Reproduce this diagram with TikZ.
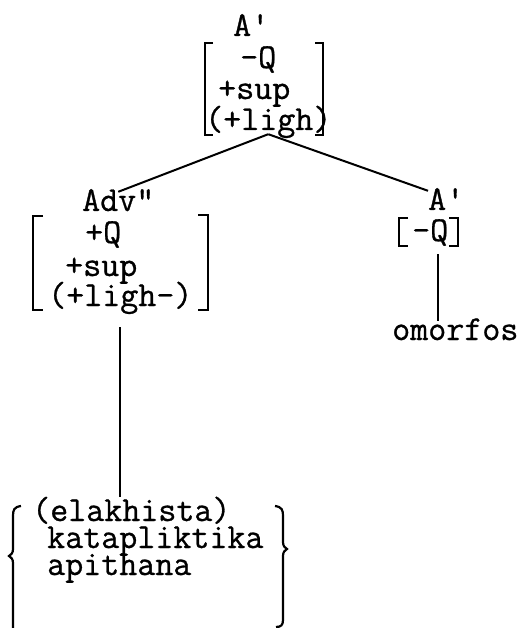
\documentclass[tikz,border=0pt]{standalone}
\usepackage{fontspec}
\newfontfamily\tw{Latin Modern Mono}[Ligatures=TeXOff,FakeBold=0.8]
\begin{document}
\begin{tikzpicture}[x=1pt,y=-1pt,
  lab/.style={inner sep=0pt,anchor=base west,font=\tw\fontsize{35}{35}\selectfont,
    text height=19pt,text depth=4pt},
  edge/.style={line width=2pt},
  brk/.style={line width=2.2pt}]
\useasboundingbox (0,0) rectangle (523,628);
% top node
\node[lab] (t0) at (233,36) {A'};
\node[lab] (t1) at (240,68) {-Q};
\node[lab] (t2) at (218,99) {+sup};
\node[lab] (t3) at (205,130) {(+ligh)};
\draw[brk] (213,43) -- (205,43) -- (205,135) -- (213,135);
\draw[brk] (315,43) -- (323,43) -- (323,135) -- (315,135);
% left daughter
\node[lab] (a0) at (82,211) {Adv"};
\node[lab] (a1) at (85,243) {+Q};
\node[lab] (a2) at (65,276) {+sup};
\node[lab] (a3) at (48,306) {(+ligh-)};
\draw[brk] (43,216) -- (33,216) -- (33,310) -- (43,310);
\draw[brk] (198,215) -- (208,215) -- (208,310) -- (198,310);
% right daughter
\node[lab] (r0) at (428,210) {A'};
\node[lab] (r1) at (412,241) {-Q};
\draw[brk] (408,218) -- (399,218) -- (399,246) -- (408,246);
\draw[brk] (449,218) -- (458,218) -- (458,246) -- (449,246);
\node[lab] (om) at (392,340) {omorfos};
% bottom list
\node[lab] (b1) at (32,521) {(elakhista)};
\node[lab] (b2) at (47,548) {katapliktika};
\node[lab] (b3) at (47,575) {apithana};
\draw[brk] (21,506) .. controls (14,507) and (13,510) .. (13,516) -- (13,549)
  .. controls (13,553) and (11,555) .. (9,556)
  .. controls (11,557) and (13,559) .. (13,563) -- (13,628);
\draw[brk] (275,506) .. controls (282,507) and (283,510) .. (283,516) -- (283,542)
  .. controls (283,546) and (285,548) .. (287,549)
  .. controls (285,550) and (283,552) .. (283,556) -- (283,620)
  .. controls (283,625) and (281,627) .. (276,627);
% connectors
\draw[edge] (t3.south) -- (a0.north);
\draw[edge] (t3.south) -- (r0.north west);
\draw[edge] ([yshift=-17pt]a3.south) -- ([yshift=5pt]a3.south |- b1.north);
\draw[edge] ([xshift=8pt,yshift=-9pt]r1.south) -- ([xshift=8pt]r1.south |- om.north);
\end{tikzpicture}
\end{document}
